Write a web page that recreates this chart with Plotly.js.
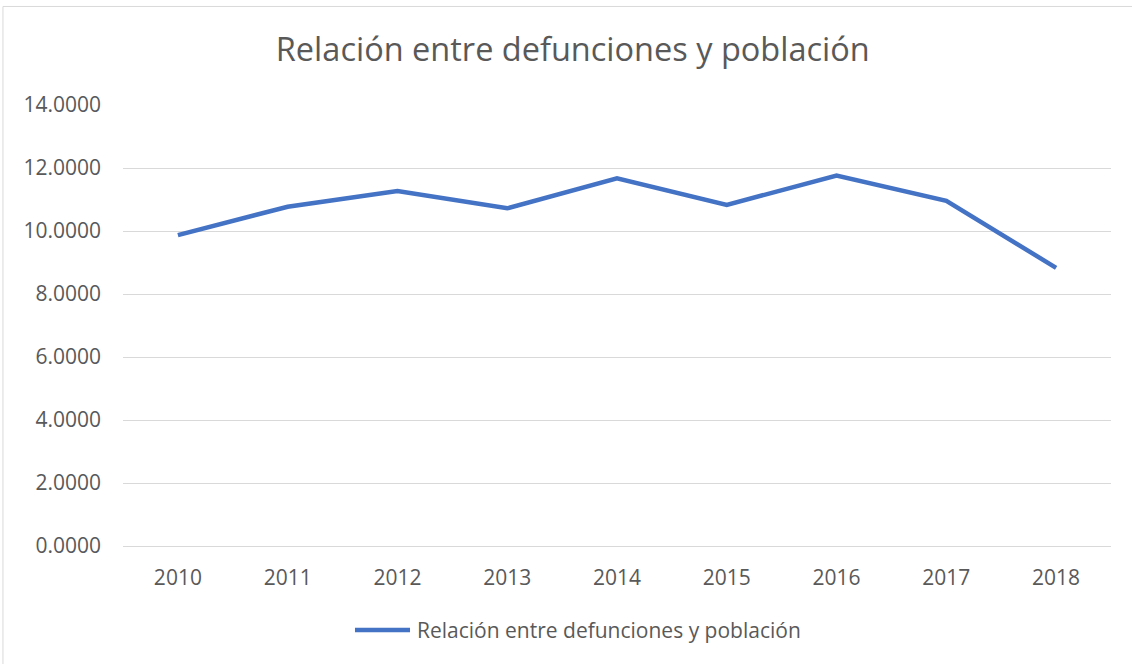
<!DOCTYPE html>
<html><head><meta charset="utf-8">
<script src="https://cdn.plot.ly/plotly-3.0.1.min.js"></script>
<style>html,body{margin:0;padding:0;background:#fff;}#chart{width:1132px;height:664px;}</style>
</head><body><div id="chart"></div>
<script>
const years = ['2010','2011','2012','2013','2014','2015','2016','2017','2018'];
const ratio = [9.87, 10.77, 11.27, 10.72, 11.67, 10.83, 11.76, 10.96, 8.83];
const seriesName = 'Relación entre defunciones y población';
const chartTitle = 'Relación entre defunciones y población';
const yTicks = [0,2,4,6,8,10,12,14];
const yTickText = yTicks.map(v => v.toFixed(4));

const FONT = '"Open Sans", sans-serif';
const LINE_COLOR = '#4472C4';
const trace = {
  x: years, y: ratio, type: 'scatter', mode: 'lines', name: seriesName,
  line: {color: LINE_COLOR, width: 4.5}, showlegend: false
};
const layout = {
  width: 1132, height: 664,
  margin: {l: 123, r: 21, t: 105, b: 118},
  paper_bgcolor: '#fff', plot_bgcolor: '#fff',
  font: {family: FONT, color: '#595959', size: 21},
  title: {text: chartTitle, font: {family: FONT, size: 32.5, color: '#595959'}, x: 0.506, xanchor: 'center', y: 0.925, yanchor: 'middle'},
  showlegend: false,
  xaxis: {type: 'category', range: [-0.5, 8.5], showgrid: false, zeroline: false, showline: true, linecolor: '#d9d9d9', linewidth: 1, ticks: '', ticklabelstandoff: 13, tickfont: {size: 21, color: '#595959'}, fixedrange: true},
  yaxis: {range: [0, 14], tickvals: yTicks, ticktext: yTickText, showgrid: true, gridcolor: '#d9d9d9', gridwidth: 1, zeroline: false, showline: false, ticks: '', ticklabelstandoff: 21, tickfont: {size: 21, color: '#595959'}, fixedrange: true},
  shapes: [
    {type: 'rect', xref: 'paper', yref: 'paper', x0: -0.1215, x1: 1.05, y0: -0.3, y1: 1.2234, line: {color: '#d9d9d9', width: 1}, fillcolor: 'rgba(0,0,0,0)', layer: 'below'},
    {type: 'line', xref: 'paper', yref: 'paper', x0: 0.2348, x1: 0.2905, y0: -0.1905, y1: -0.1905, line: {color: LINE_COLOR, width: 4.5}}
  ],
  annotations: [
    {xref: 'paper', yref: 'paper', x: 0.2955, y: -0.1905, xanchor: 'left', yanchor: 'middle', text: seriesName, showarrow: false, font: {family: FONT, size: 21, color: '#595959'}}
  ]
};
Plotly.newPlot('chart', [trace], layout, {displayModeBar: false, staticPlot: true});
</script></body></html>
